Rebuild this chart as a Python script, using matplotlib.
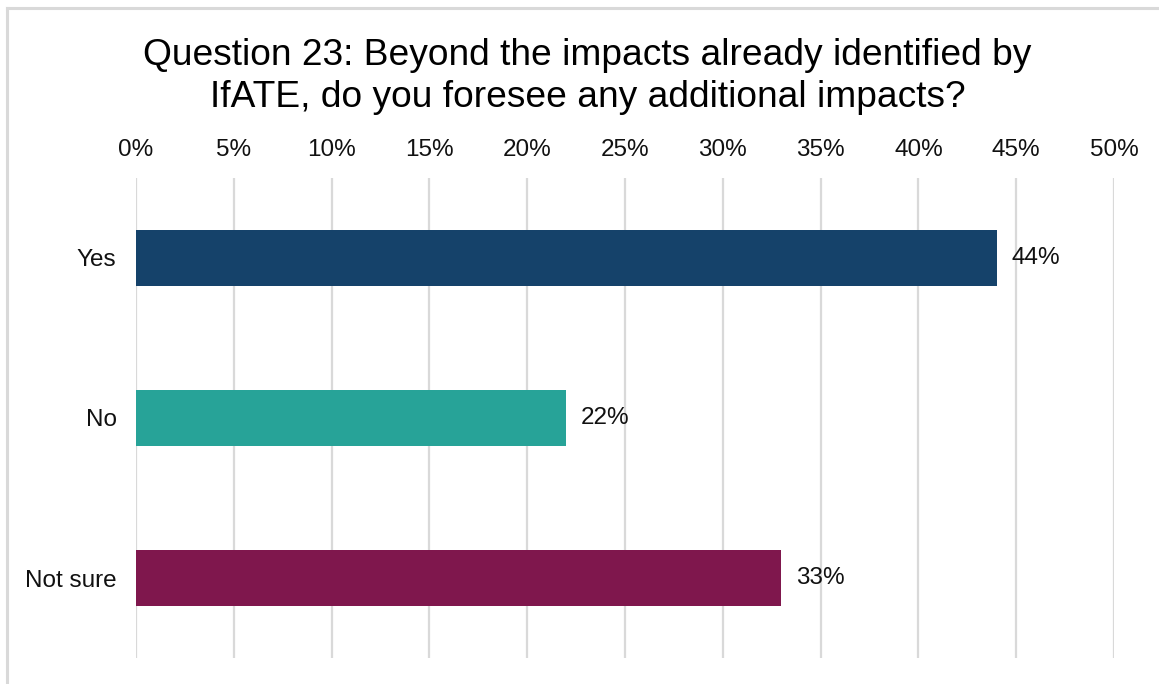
"""
Question 23 responses: additional impacts beyond those identified by IfATE
"""
import matplotlib.pyplot as plt
from matplotlib.lines import Line2D

plt.rcParams['font.family'] = ['Liberation Sans', 'DejaVu Sans']

answers = ['Yes', 'No', 'Not sure']
shares = [44, 22, 33]
bar_colors = ['#15426A', '#27A398', '#7F174D']
ticks = list(range(0, 55, 5))

fig = plt.figure(figsize=(11.59, 6.84), dpi=100)
ax = fig.add_axes([0.1173, 0.038, 0.8439, 0.7018])

positions = list(range(len(answers)))
ax.barh(positions, shares, height=0.355, color=bar_colors, zorder=3)
for pos, val in zip(positions, shares):
    ax.text(val + 0.75, pos, f'{val}%', va='center', ha='left', fontsize=17.5, color='#111111')

ax.set_xlim(0, 50)
ax.set_ylim(len(answers) - 0.5, -0.5)
ax.set_yticks(positions)
ax.set_yticklabels(answers)
ax.set_xticks(ticks)
ax.set_xticklabels([f'{t}%' for t in ticks])
ax.xaxis.tick_top()
ax.tick_params(axis='x', length=0, pad=12, labelsize=17.5, labelcolor='#111111')
ax.tick_params(axis='y', length=0, pad=14, labelsize=17.5, labelcolor='#111111')
ax.grid(axis='x', color='#d9d9d9', linewidth=1.6, zorder=0)
for side in ax.spines.values():
    side.set_visible(False)

fig.text(0.507, 0.8885, 'Question 23: Beyond the impacts already identified by\nIfATE, do you foresee any additional impacts?',
         ha='center', va='center', fontsize=26.7, linespacing=1.27, color='#000000')

# light frame along the top and left edges
fig.add_artist(Line2D([0.006, 1.0], [0.988, 0.988], color='#d9d9d9', linewidth=2.2))
fig.add_artist(Line2D([0.006, 0.006], [0.0, 0.988], color='#d9d9d9', linewidth=2.2))

plt.savefig('out.png', dpi=100)
